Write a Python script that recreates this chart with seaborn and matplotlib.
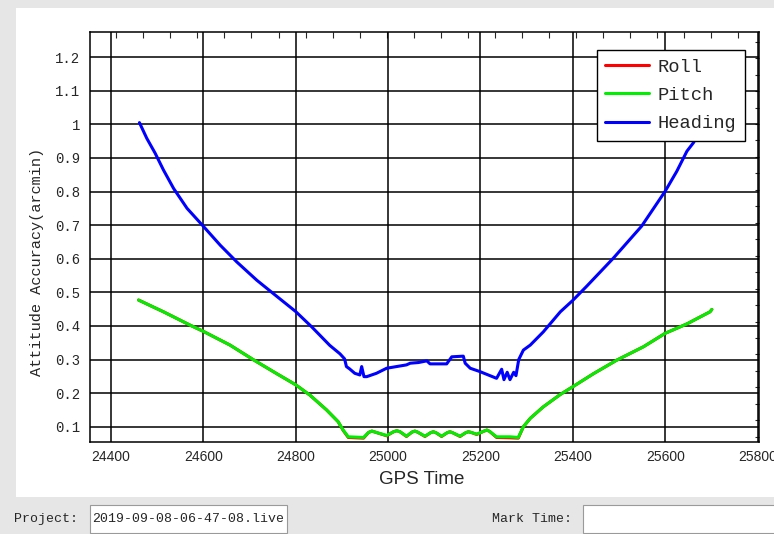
import matplotlib
matplotlib.use("Agg")
import numpy as np
import matplotlib.pyplot as plt
from matplotlib.patches import Rectangle
import seaborn as sns

# GPS time / attitude accuracy (arcmin)
heading_t = [24462, 24478, 24496, 24514, 24536, 24565, 24600, 24637, 24673, 24716,
             24752, 24800, 24835, 24874, 24896, 24906, 24910, 24917, 24928, 24939,
             24943, 24948, 24954, 24975, 24997, 25040, 25048, 25066, 25084, 25091,
             25127, 25138, 25163, 25167, 25178, 25199, 25235, 25246, 25251, 25258,
             25264, 25272, 25277, 25283, 25293, 25308, 25336, 25373, 25400, 25430,
             25488, 25549, 25600, 25625, 25647, 25661, 25700]
heading_v = [1.005, 0.958, 0.914, 0.864, 0.809, 0.750, 0.697, 0.640, 0.590, 0.536,
             0.496, 0.443, 0.397, 0.342, 0.317, 0.302, 0.279, 0.272, 0.259, 0.254,
             0.279, 0.249, 0.249, 0.259, 0.274, 0.284, 0.289, 0.291, 0.296, 0.287,
             0.287, 0.308, 0.310, 0.289, 0.274, 0.264, 0.244, 0.271, 0.240, 0.262,
             0.240, 0.262, 0.252, 0.300, 0.328, 0.343, 0.382, 0.442, 0.476, 0.518,
             0.602, 0.697, 0.801, 0.860, 0.920, 0.945, 1.040]

pitch_t = [24460, 24514, 24572, 24600, 24658, 24709, 24759, 24800, 24831, 24867,
           24892, 24903, 24914, 24947, 24958, 24965, 24972, 24997, 25012, 25019,
           25026, 25040, 25052, 25058, 25064, 25080, 25092, 25098, 25104, 25116,
           25128, 25134, 25140, 25156, 25168, 25174, 25180, 25192, 25208, 25214,
           25220, 25235, 25264, 25282, 25293, 25308, 25336, 25373, 25400, 25445,
           25495, 25553, 25600, 25647, 25697, 25701]
pitch_v = [0.477, 0.442, 0.402, 0.384, 0.343, 0.299, 0.258, 0.225, 0.194, 0.150,
           0.115, 0.090, 0.070, 0.068, 0.083, 0.087, 0.084, 0.074, 0.085, 0.088,
           0.085, 0.072, 0.084, 0.087, 0.084, 0.072, 0.082, 0.085, 0.082, 0.072,
           0.082, 0.085, 0.082, 0.072, 0.082, 0.085, 0.083, 0.078, 0.087, 0.090,
           0.086, 0.070, 0.070, 0.068, 0.100, 0.125, 0.159, 0.196, 0.219, 0.258,
           0.298, 0.338, 0.378, 0.406, 0.442, 0.449]

roll_t = [24460, 24514, 24572, 24600, 24658, 24709, 24759, 24800, 24831, 24867,
          24892, 24903, 24914, 24947, 24958, 24965, 24972, 24997, 25012, 25019,
          25026, 25040, 25052, 25058, 25064, 25080, 25092, 25098, 25104, 25116,
          25128, 25134, 25140, 25156, 25168, 25174, 25180, 25192, 25208, 25214,
          25220, 25235, 25264, 25282, 25293, 25308, 25336, 25373, 25400, 25445,
          25495, 25553, 25600, 25647, 25697, 25701]
roll_v = [0.477, 0.442, 0.402, 0.384, 0.343, 0.299, 0.258, 0.225, 0.194, 0.150,
          0.115, 0.089, 0.068, 0.066, 0.083, 0.087, 0.084, 0.073, 0.085, 0.088,
          0.085, 0.071, 0.084, 0.087, 0.084, 0.071, 0.082, 0.085, 0.082, 0.071,
          0.082, 0.085, 0.082, 0.071, 0.082, 0.085, 0.083, 0.077, 0.087, 0.090,
          0.086, 0.068, 0.067, 0.066, 0.100, 0.125, 0.159, 0.196, 0.219, 0.258,
          0.298, 0.338, 0.378, 0.406, 0.442, 0.449]

project_name = "2019-09-08-06-47-08.live"

sns.set_style("white")
plt.rcParams['font.family'] = ['Liberation Mono', 'DejaVu Sans']

W, H = 774, 534
fig = plt.figure(figsize=(W / 100, H / 100), dpi=100, facecolor='#e6e6e6')

# window background drawn in pixel coordinates
bg = fig.add_axes([0, 0, 1, 1], zorder=0)
bg.set_xlim(0, W)
bg.set_ylim(H, 0)
bg.axis('off')
bg.add_patch(Rectangle((16, 8), W - 16, 489, facecolor='white', edgecolor='none'))
box1 = Rectangle((90, 505), 197, 28, facecolor='white', edgecolor='#9a9a9a', lw=0.8)
box2 = Rectangle((583, 505), 200, 28, facecolor='white', edgecolor='#9a9a9a', lw=0.8)
bg.add_patch(box1)
bg.add_patch(box2)
bg.text(14, 519, "Project:", fontsize=9.5, ha='left', va='center')
bg.text(572, 519, "Mark Time:", fontsize=9.5, ha='right', va='center')
t = bg.text(284, 519, project_name, fontsize=9.5, ha='right', va='center')
t.set_clip_path(box1)

bg.text(37, 262, "Attitude Accuracy(arcmin)", fontsize=11, rotation=90,
        ha='center', va='center')
bg.text(422, 479, "GPS Time", fontsize=13.5, family='Liberation Sans',
        ha='center', va='center')

ax = fig.add_axes([90 / W, 1 - 442 / H, 669 / W, 410 / H], zorder=1)
ax.set_facecolor('white')

sns.lineplot(x=roll_t, y=roll_v, ax=ax, color='#ff0000', lw=2.2, sort=False, label='Roll')
sns.lineplot(x=pitch_t, y=pitch_v, ax=ax, color='#00ee00', lw=2.2, sort=False, label='Pitch')
sns.lineplot(x=heading_t, y=heading_v, ax=ax, color='#0000ff', lw=2.2, sort=False, label='Heading')

ax.set_xlim(24355, 25803)
ax.set_ylim(0.0545, 1.2747)
ax.set_xticks([24400, 24600, 24800, 25000, 25200, 25400, 25600, 25800])
ax.set_yticks([0.1, 0.2, 0.3, 0.4, 0.5, 0.6, 0.7, 0.8, 0.9, 1.0, 1.1, 1.2])
ax.set_yticklabels(['0.1', '0.2', '0.3', '0.4', '0.5', '0.6', '0.7', '0.8', '0.9',
                    '1', '1.1', '1.2'])
ax.set_xlabel('')
ax.set_ylabel('')
ax.grid(True, color='black', lw=1.1)
ax.set_axisbelow(True)
for s in ax.spines.values():
    s.set_color('black')
    s.set_linewidth(1.1)
ax.tick_params(axis='both', which='major', length=0)
ax.tick_params(axis='x', pad=6, labelsize=10)
ax.tick_params(axis='y', pad=7, labelsize=10)
for lab in ax.get_xticklabels():
    lab.set_family('Liberation Sans')
for lab in ax.get_xticklabels() + ax.get_yticklabels():
    lab.set_clip_on(False)

# small inward ticks along the top and right edges
top = ax.secondary_xaxis('top')
top.set_xticks(np.arange(24412, 25800, 58.5))
top.tick_params(direction='in', length=4, width=0.8, labeltop=False)
top.spines['top'].set_visible(False)
right = ax.secondary_yaxis('right')
right.set_yticks(np.arange(0.07, 1.27, 0.049))
right.tick_params(direction='in', length=3, width=0.8, labelright=False)
right.spines['right'].set_visible(False)

leg = ax.legend(loc='upper right', bbox_to_anchor=(0.979, 0.956), borderaxespad=0,
                fontsize=13.5, frameon=True, fancybox=False, framealpha=1,
                edgecolor='black', handlelength=2.3, handletextpad=0.48,
                labelspacing=0.59, borderpad=0.46)
leg.get_frame().set_linewidth(1.0)
leg.set_zorder(5)

fig.savefig('out.png', dpi=100, facecolor=fig.get_facecolor())
